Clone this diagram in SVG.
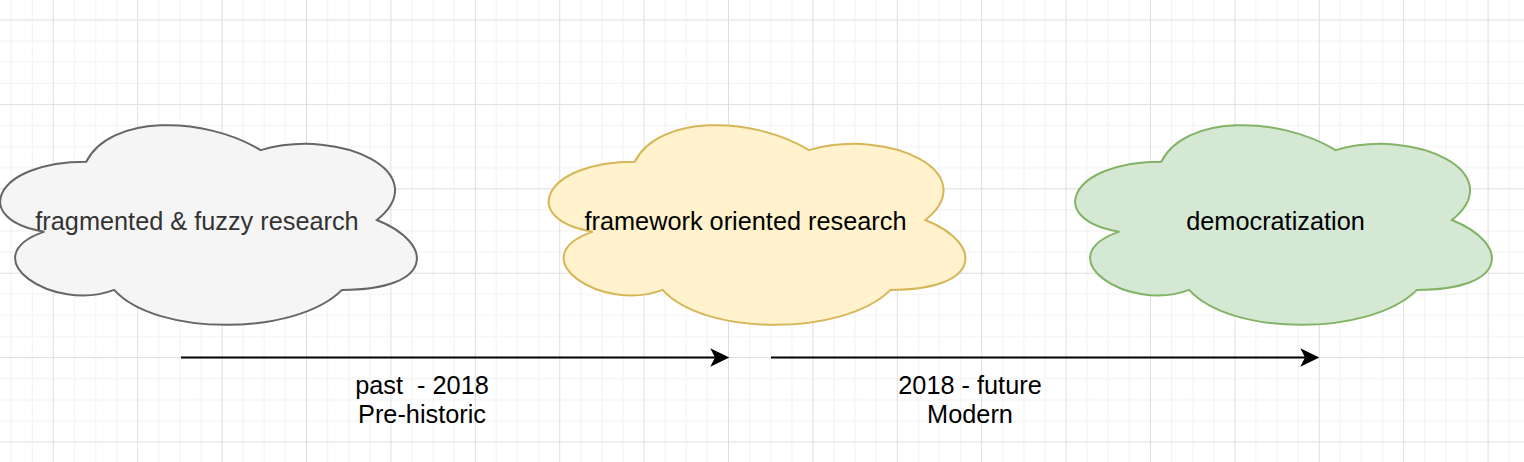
<svg xmlns="http://www.w3.org/2000/svg" xmlns:xlink="http://www.w3.org/1999/xlink" width="1524" height="462" viewBox="0 0 1524 462">
  <style>
    .txt { font-family: "Liberation Sans", Arial, Helvetica, sans-serif; font-size: 25.3px; text-anchor: middle; }
    .edge { fill: none; stroke: #000000; stroke-width: 2.1; }
    .gray { fill: #f5f5f5; stroke: #666666; stroke-width: 2; }
    .yellow { fill: #fff2cc; stroke: #d6b656; stroke-width: 2; }
    .green { fill: #d5e8d4; stroke: #82b366; stroke-width: 2; }
  </style>
  <defs>
    <pattern id="grid" patternUnits="userSpaceOnUse" x="52.8" y="19.5" width="84.4" height="84.4">
      <path d="M21.6 0V84.4M42.7 0V84.4M63.8 0V84.4M0 21.6H84.4M0 42.7H84.4M0 63.8H84.4" stroke="#f1f1f1" stroke-width="1" fill="none"/>
      <path d="M0.5 0V84.4M0 0.5H84.4" stroke="#dedede" stroke-width="1" fill="none"/>
    </pattern>
    <path id="cloud" d="M116.25 58.25C23.25 58.25 0 116.5 74.4 128.15C0 153.78 83.7 209.7 144.15 186.4C186 233 325.5 233 372 186.4C465 186.4 465 139.8 406.875 116.5C465 69.9 372 23.3 290.625 46.6C232.5 11.65 139.5 11.65 116.25 58.25Z"/>
    <marker id="arrow" markerUnits="userSpaceOnUse" markerWidth="20" markerHeight="20" refX="5.7" refY="10" orient="auto" overflow="visible">
      <path d="M19 10L0 0.8L4.7 10L0 19.2Z" fill="#000000" stroke="none"/>
    </marker>
  </defs>
  <rect x="0" y="0" width="1524" height="462" fill="#ffffff"/>
  <rect x="0" y="0" width="1524" height="462" fill="url(#grid)"/>

  <g id="connectors">
    <path class="edge" d="M181 357.5H716" marker-end="url(#arrow)"/>
    <path class="edge" d="M771 357.5H1306" marker-end="url(#arrow)"/>
  </g>

  <g id="node-fragmented">
    <use xlink:href="#cloud" href="#cloud" class="gray" transform="translate(-30 103.5)"/>
    <text class="txt" x="197" y="229.5" fill="#333333">fragmented &amp; fuzzy research</text>
  </g>

  <g id="node-framework">
    <use xlink:href="#cloud" href="#cloud" class="yellow" transform="translate(518.5 103.5)"/>
    <text class="txt" x="745.5" y="229.5" fill="#000000">framework oriented research</text>
  </g>

  <g id="node-democratization">
    <use xlink:href="#cloud" href="#cloud" class="green" transform="translate(1045 103.5)"/>
    <text class="txt" x="1275.5" y="229.5" fill="#000000">democratization</text>
  </g>

  <g id="label-past">
    <text class="txt" x="422" y="394.3" fill="#000000" xml:space="preserve">past  - 2018</text>
    <text class="txt" x="422" y="422.7" fill="#000000">Pre-historic</text>
  </g>

  <g id="label-future">
    <text class="txt" x="970" y="394.3" fill="#000000">2018 - future</text>
    <text class="txt" x="970" y="423" fill="#000000">Modern</text>
  </g>
</svg>
